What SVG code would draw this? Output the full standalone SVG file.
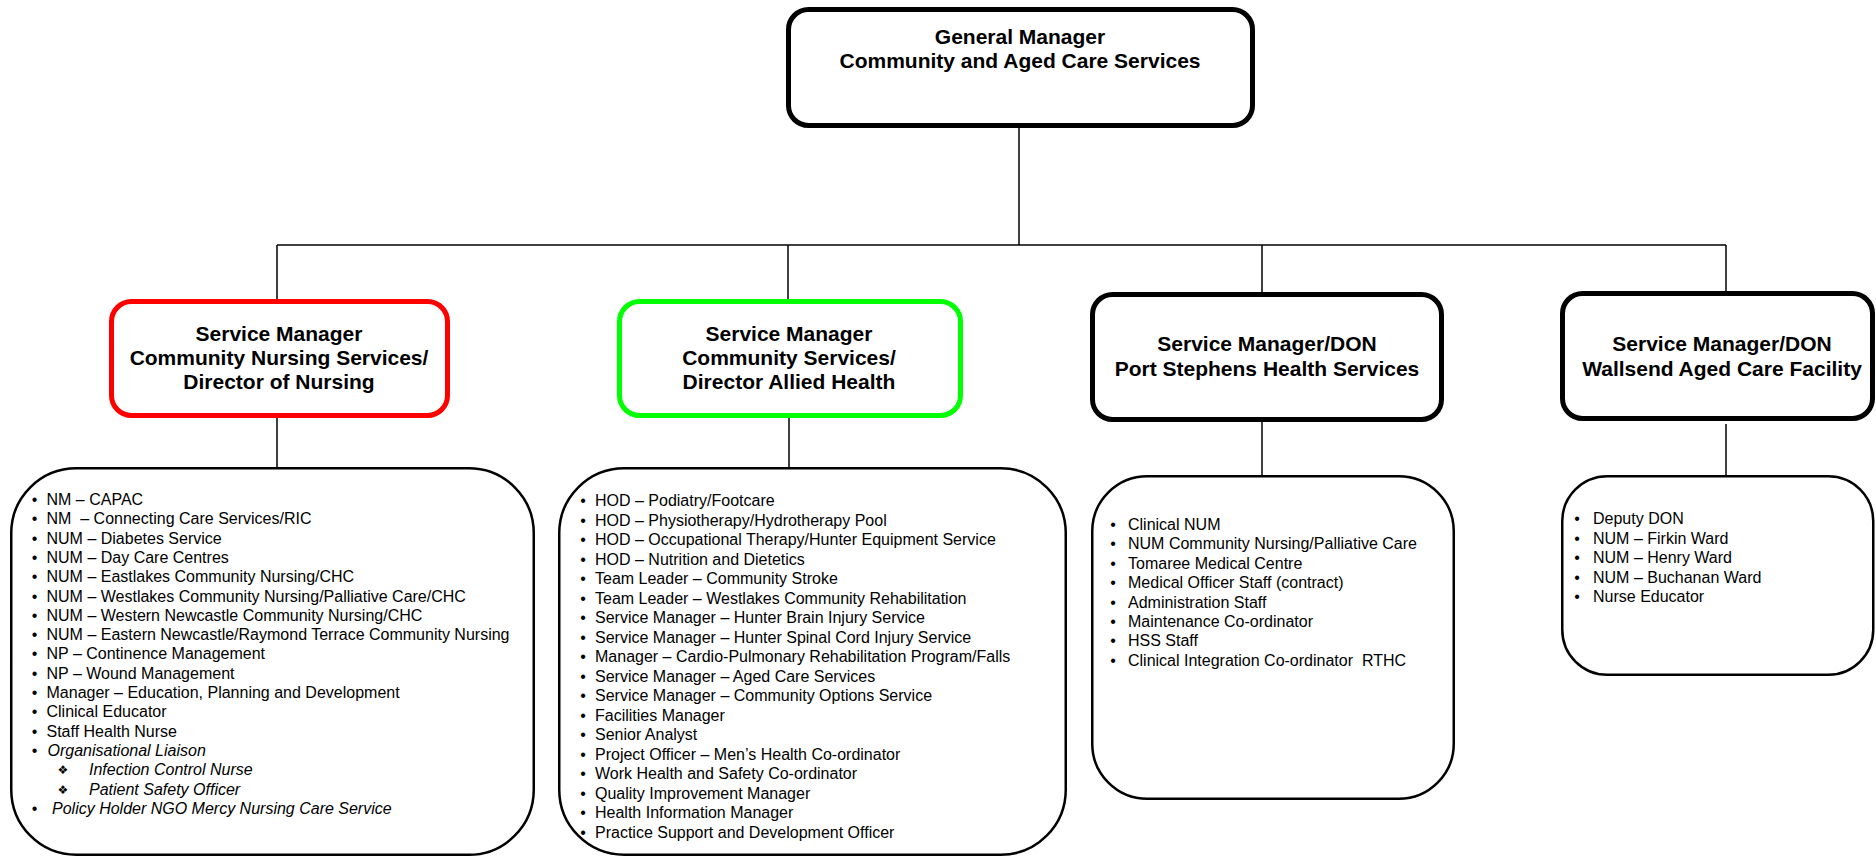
<svg xmlns="http://www.w3.org/2000/svg" width="1876" height="857" viewBox="0 0 1876 857">
<style>
  .bg { fill: #ffffff; }
  .head { fill: #ffffff; stroke: #000000; stroke-width: 5; }
  .red { stroke: #ff0000; }
  .green { stroke: #00ff00; }
  .list { fill: #ffffff; stroke: #000000; stroke-width: 2.5; }
  .conn { fill: none; stroke: #000000; stroke-width: 1.5; }
  .ht { font-family: "Liberation Sans", Arial, sans-serif; font-weight: bold; font-size: 21px; fill: #000000; text-anchor: middle; }
  .it { font-family: "Liberation Sans", Arial, sans-serif; font-size: 16px; fill: #000000; white-space: pre; }
  .em { font-style: italic; }
  .dia { font-family: "DejaVu Sans", sans-serif; font-size: 12px; fill: #000000; }
</style>
<rect class="bg" x="0" y="0" width="1876" height="857"/>

<g id="connectors">
  <path class="conn" d="M1019 128 V245"/>
  <path class="conn" d="M277 245 H1726"/>
  <path class="conn" d="M277 245 V299"/>
  <path class="conn" d="M788 245 V300"/>
  <path class="conn" d="M1262 245 V292"/>
  <path class="conn" d="M1726 245 V291"/>
  <path class="conn" d="M277 418 V468"/>
  <path class="conn" d="M789 418 V468"/>
  <path class="conn" d="M1262 422 V476"/>
  <path class="conn" d="M1726 424 V476"/>
</g>

<g id="general-manager">
  <rect class="head" x="788.5" y="9.5" width="464" height="116" rx="20"/>
  <text class="ht" x="1020" y="44">General Manager</text>
  <text class="ht" x="1020" y="68">Community and Aged Care Services</text>
</g>

<g id="sm-community-nursing">
  <rect class="head red" x="111.5" y="301.5" width="336" height="114" rx="20"/>
  <text class="ht" x="279" y="341">Service Manager</text>
  <text class="ht" x="279" y="365">Community Nursing Services/</text>
  <text class="ht" x="279" y="389">Director of Nursing</text>
</g>

<g id="sm-community-services">
  <rect class="head green" x="619.5" y="301.5" width="341" height="114" rx="20"/>
  <text class="ht" x="789" y="341">Service Manager</text>
  <text class="ht" x="789" y="365">Community Services/</text>
  <text class="ht" x="789" y="389">Director Allied Health</text>
</g>

<g id="sm-port-stephens">
  <rect class="head" x="1092.5" y="294.5" width="349" height="125" rx="20"/>
  <text class="ht" x="1267" y="351">Service Manager/DON</text>
  <text class="ht" x="1267" y="376">Port Stephens Health Services</text>
</g>

<g id="sm-wallsend">
  <rect class="head" x="1562.5" y="293.5" width="310" height="125" rx="20"/>
  <text class="ht" x="1722" y="351">Service Manager/DON</text>
  <text class="ht" x="1722" y="376">Wallsend Aged Care Facility</text>
</g>

<g id="list-community-nursing">
  <rect class="list" x="11.25" y="468.25" width="522.5" height="386.5" rx="65"/>
  <text class="it" x="31.8" y="505">•<tspan x="31.8" y="524">•</tspan><tspan x="31.8" y="544">•</tspan><tspan x="31.8" y="563">•</tspan><tspan x="31.8" y="582">•</tspan><tspan x="31.8" y="602">•</tspan><tspan x="31.8" y="621">•</tspan><tspan x="31.8" y="640">•</tspan><tspan x="31.8" y="659">•</tspan><tspan x="31.8" y="679">•</tspan><tspan x="31.8" y="698">•</tspan><tspan x="31.8" y="717">•</tspan><tspan x="31.8" y="737">•</tspan><tspan x="31.8" y="756">•</tspan><tspan x="31.8" y="814">•</tspan></text>
  <text class="it" x="46.5" y="505">NM – CAPAC<tspan x="46.5" y="524">NM  – Connecting Care Services/RIC</tspan><tspan x="46.5" y="544">NUM – Diabetes Service</tspan><tspan x="46.5" y="563">NUM – Day Care Centres</tspan><tspan x="46.5" y="582">NUM – Eastlakes Community Nursing/CHC</tspan><tspan x="46.5" y="602">NUM – Westlakes Community Nursing/Palliative Care/CHC</tspan><tspan x="46.5" y="621">NUM – Western Newcastle Community Nursing/CHC</tspan><tspan x="46.5" y="640">NUM – Eastern Newcastle/Raymond Terrace Community Nursing</tspan><tspan x="46.5" y="659">NP – Continence Management</tspan><tspan x="46.5" y="679">NP – Wound Management</tspan><tspan x="46.5" y="698">Manager – Education, Planning and Development</tspan><tspan x="46.5" y="717">Clinical Educator</tspan><tspan x="46.5" y="737">Staff Health Nurse</tspan></text>
  <text class="it em" x="47.5" y="756">Organisational Liaison<tspan x="89" y="775">Infection Control Nurse</tspan><tspan x="89" y="795">Patient Safety Officer</tspan><tspan x="52" y="814">Policy Holder NGO Mercy Nursing Care Service</tspan></text>
  <text class="dia" x="57.5" y="774">❖<tspan x="57.5" y="794">❖</tspan></text>
</g>

<g id="list-community-services">
  <rect class="list" x="559.25" y="468.25" width="506.5" height="386.5" rx="65"/>
  <text class="it" x="580.2" y="506">•<tspan x="580.2" y="525.5">•</tspan><tspan x="580.2" y="545">•</tspan><tspan x="580.2" y="564.5">•</tspan><tspan x="580.2" y="584">•</tspan><tspan x="580.2" y="603.5">•</tspan><tspan x="580.2" y="623">•</tspan><tspan x="580.2" y="642.5">•</tspan><tspan x="580.2" y="662">•</tspan><tspan x="580.2" y="681.5">•</tspan><tspan x="580.2" y="701">•</tspan><tspan x="580.2" y="720.5">•</tspan><tspan x="580.2" y="740">•</tspan><tspan x="580.2" y="759.5">•</tspan><tspan x="580.2" y="779">•</tspan><tspan x="580.2" y="798.5">•</tspan><tspan x="580.2" y="818">•</tspan><tspan x="580.2" y="837.5">•</tspan></text>
  <text class="it" x="595" y="506">HOD – Podiatry/Footcare<tspan x="595" y="525.5">HOD – Physiotherapy/Hydrotherapy Pool</tspan><tspan x="595" y="545">HOD – Occupational Therapy/Hunter Equipment Service</tspan><tspan x="595" y="564.5">HOD – Nutrition and Dietetics</tspan><tspan x="595" y="584">Team Leader – Community Stroke</tspan><tspan x="595" y="603.5">Team Leader – Westlakes Community Rehabilitation</tspan><tspan x="595" y="623">Service Manager – Hunter Brain Injury Service</tspan><tspan x="595" y="642.5">Service Manager – Hunter Spinal Cord Injury Service</tspan><tspan x="595" y="662">Manager – Cardio-Pulmonary Rehabilitation Program/Falls</tspan><tspan x="595" y="681.5">Service Manager – Aged Care Services</tspan><tspan x="595" y="701">Service Manager – Community Options Service</tspan><tspan x="595" y="720.5">Facilities Manager</tspan><tspan x="595" y="740">Senior Analyst</tspan><tspan x="595" y="759.5">Project Officer – Men’s Health Co-ordinator</tspan><tspan x="595" y="779">Work Health and Safety Co-ordinator</tspan><tspan x="595" y="798.5">Quality Improvement Manager</tspan><tspan x="595" y="818">Health Information Manager</tspan><tspan x="595" y="837.5">Practice Support and Development Officer</tspan></text>
</g>

<g id="list-port-stephens">
  <rect class="list" x="1092.25" y="476.25" width="361.5" height="322.5" rx="55"/>
  <text class="it" x="1110.2" y="530">•<tspan x="1110.2" y="549.4">•</tspan><tspan x="1110.2" y="568.8">•</tspan><tspan x="1110.2" y="588.2">•</tspan><tspan x="1110.2" y="607.6">•</tspan><tspan x="1110.2" y="627">•</tspan><tspan x="1110.2" y="646.4">•</tspan><tspan x="1110.2" y="665.8">•</tspan></text>
  <text class="it" x="1128" y="530">Clinical NUM<tspan x="1128" y="549.4">NUM Community Nursing/Palliative Care</tspan><tspan x="1128" y="568.8">Tomaree Medical Centre</tspan><tspan x="1128" y="588.2">Medical Officer Staff (contract)</tspan><tspan x="1128" y="607.6">Administration Staff</tspan><tspan x="1128" y="627">Maintenance Co-ordinator</tspan><tspan x="1128" y="646.4">HSS Staff</tspan><tspan x="1128" y="665.8">Clinical Integration Co-ordinator  RTHC</tspan></text>
</g>

<g id="list-wallsend">
  <rect class="list" x="1562.25" y="476.25" width="311" height="198.5" rx="45"/>
  <text class="it" x="1574.2" y="524">•<tspan x="1574.2" y="543.5">•</tspan><tspan x="1574.2" y="563">•</tspan><tspan x="1574.2" y="582.5">•</tspan><tspan x="1574.2" y="602">•</tspan></text>
  <text class="it" x="1593" y="524">Deputy DON<tspan x="1593" y="543.5">NUM – Firkin Ward</tspan><tspan x="1593" y="563">NUM – Henry Ward</tspan><tspan x="1593" y="582.5">NUM – Buchanan Ward</tspan><tspan x="1593" y="602">Nurse Educator</tspan></text>
</g>
</svg>
